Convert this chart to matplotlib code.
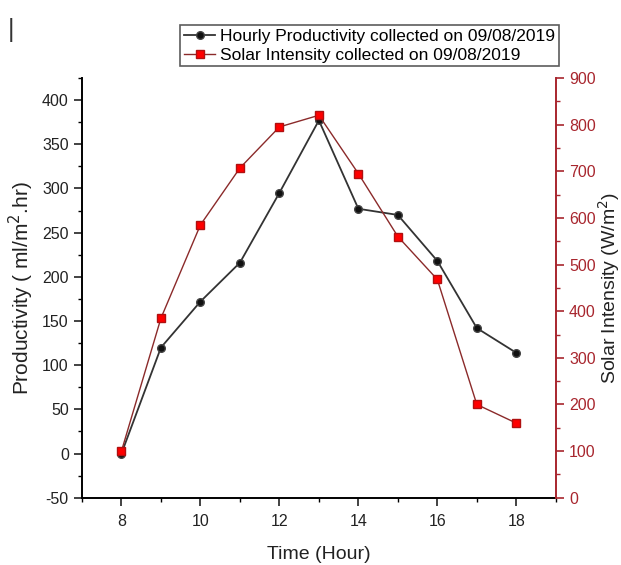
import matplotlib
matplotlib.use('Agg')
import matplotlib.pyplot as plt
from matplotlib.ticker import MultipleLocator

plt.rcParams['font.family'] = ['Liberation Sans', 'DejaVu Sans']
plt.rcParams['axes.unicode_minus'] = False

hours = [8, 9, 10, 11, 12, 13, 14, 15, 16, 17, 18]
productivity = [0, 120, 172, 216, 295, 377, 277, 270, 218, 142, 114]
solar = [100, 385, 585, 707, 795, 820, 695, 560, 468, 200, 160]

red_dark = '#a8262e'

fig = plt.figure(figsize=(6.21, 5.65), dpi=100)
ax = fig.add_axes([0.132, 0.119, 0.763, 0.743])
ax2 = ax.twinx()

l1, = ax.plot(hours, productivity, color='#333333', lw=1.3, marker='o',
              markersize=5.5, markerfacecolor='#111111', markeredgecolor='#444444',
              label='Hourly Productivity collected on 09/08/2019')
l2, = ax2.plot(hours, solar, color='#8b2a2a', lw=1.0, marker='s',
               markersize=5.5, markerfacecolor='#ff0000', markeredgecolor='#b01010',
               label='Solar Intensity collected on 09/08/2019')

ax.set_xlim(7, 19)
ax.set_ylim(-50, 425)
ax2.set_ylim(0, 900)

ax.xaxis.set_major_locator(MultipleLocator(2))
ax.xaxis.set_minor_locator(MultipleLocator(1))
ax.yaxis.set_major_locator(MultipleLocator(50))
ax.yaxis.set_minor_locator(MultipleLocator(25))
ax2.yaxis.set_major_locator(MultipleLocator(100))
ax2.yaxis.set_minor_locator(MultipleLocator(50))

for a in (ax, ax2):
    a.spines['top'].set_visible(False)
ax.spines['right'].set_visible(False)
ax.spines['left'].set_linewidth(1.4)
ax.spines['bottom'].set_linewidth(1.4)
ax2.spines['left'].set_visible(False)
ax2.spines['bottom'].set_visible(False)
ax2.spines['right'].set_color(red_dark)
ax2.spines['right'].set_linewidth(1.4)

ax.tick_params(axis='both', which='major', direction='out', length=6, width=1.2,
               labelsize=11.5, colors='#222222')
ax.tick_params(axis='x', which='major', pad=6)
ax.tick_params(axis='both', which='minor', direction='out', length=3, width=1.0)
ax2.tick_params(axis='y', which='major', direction='out', length=6, width=1.2,
                labelsize=11.5, colors=red_dark)
ax2.tick_params(axis='y', which='minor', direction='out', length=3, width=1.0,
                colors=red_dark)

ax.set_xlabel('Time (Hour)', fontsize=14, color='#222222', labelpad=12)
ax.set_ylabel('Productivity ( ml/m$^2$.hr)', fontsize=15, color='#222222', labelpad=4)
ax2.set_ylabel('Solar Intensity (W/m$^2$)', fontsize=14, color='#222222', labelpad=0)

leg = fig.legend(handles=[l1, l2], loc='upper right',
                 bbox_to_anchor=(0.9, 0.955), frameon=True, fancybox=False,
                 edgecolor='#333333', handlelength=1.8,
                 handletextpad=0.3, borderpad=0.2, labelspacing=0.2,
                 borderaxespad=0,
                 prop={'family': ['Liberation Sans Narrow', 'Liberation Sans'], 'size': 12.5})
leg.get_frame().set_linewidth(1.2)

fig.text(0.012, 0.935, '|', fontsize=18, color='#333333')

fig.savefig('out.png', dpi=100)
